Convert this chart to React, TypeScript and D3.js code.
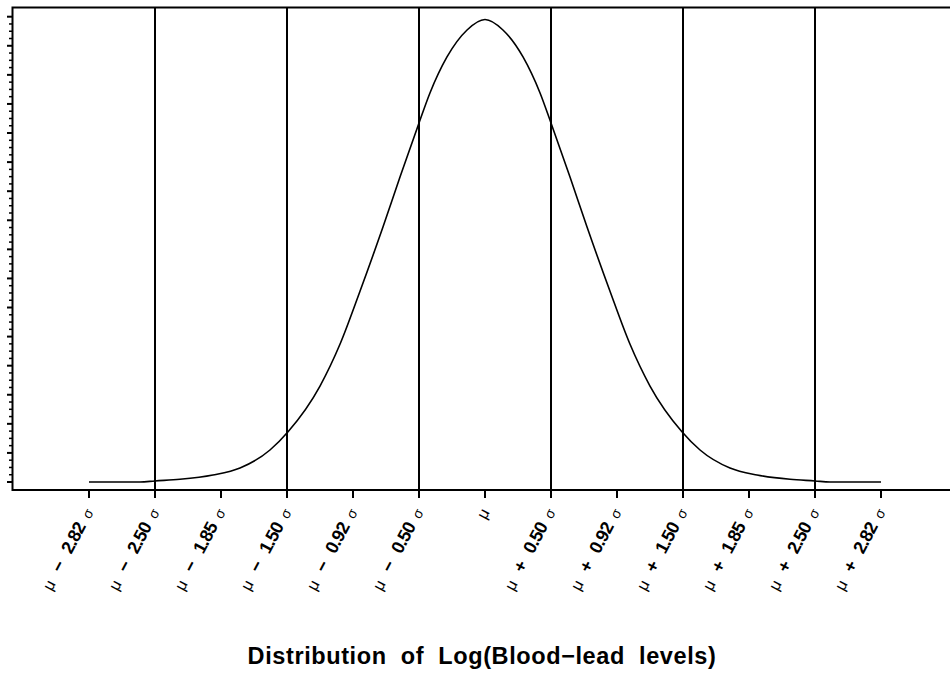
import * as d3 from "d3";

// x positions are in tick units (one tick = 0.5), y is density
const tickPos = [-3, -2.5, -2, -1.5, -1, -0.5, 0, 0.5, 1, 1.5, 2, 2.5, 3];
const tickSign = ["−", "−", "−", "−", "−", "−", "", "+", "+", "+", "+", "+", "+"];
const tickMult = ["2.82", "2.50", "1.85", "1.50", "0.92", "0.50", "", "0.50", "0.92", "1.50", "1.85", "2.50", "2.82"];
const refLines = [-2.5, -1.5, -0.5, 0.5, 1.5, 2.5];

const curveX = [
  -3.0, -2.614, -2.5, -2.311, -2.061, -1.856, -1.629, -1.492, -1.25, -1.098, -0.947, -0.773, -0.644, -0.5, -0.417,
  -0.288, -0.136, 0, 0.136, 0.288, 0.417, 0.5, 0.644, 0.773, 0.947, 1.098, 1.25, 1.492, 1.629, 1.856, 2.061, 2.311,
  2.5, 2.614, 3.0,
];
const curveY = [
  0.0, 0.0, 0.0009, 0.0023, 0.006, 0.012, 0.0275, 0.0432, 0.0825, 0.1186, 0.164, 0.2192, 0.2622, 0.3086, 0.3344,
  0.3654, 0.3886, 0.3976, 0.3886, 0.3654, 0.3344, 0.3086, 0.2622, 0.2192, 0.164, 0.1186, 0.0825, 0.0432, 0.0275,
  0.012, 0.006, 0.0023, 0.0009, 0.0, 0.0,
];

const title = "Distribution of Log(Blood−lead levels)";

const W = 950;
const H = 675;
const frame = { left: 12.5, top: 7.5, right: 953, bottom: 490 };

export default function App() {
  const x = d3.scaleLinear().domain([-3, 3]).range([89, 881]);
  const y = d3.scaleLinear().domain([0, 0.4]).range([482, 16.7]);

  const majors = d3.range(0, 0.4001, 0.025);
  const minors = d3.range(0, 0.4001, 0.00625).filter((v) => Math.abs(v / 0.025 - Math.round(v / 0.025)) > 1e-6);

  const line = d3
    .line<number>()
    .x((_, i) => x(curveX[i]))
    .y((d) => y(d))
    .curve(d3.curveMonotoneX);

  return (
    <div style={{ position: "fixed", left: 0, top: 0 }}>
      <svg width={W} height={H} style={{ display: "block", background: "#fff" }}>
        {/* frame */}
        <rect
          x={frame.left}
          y={frame.top}
          width={frame.right - frame.left}
          height={frame.bottom - frame.top}
          fill="none"
          stroke="#000"
          strokeWidth={2}
        />

        {/* y ticks, no labels */}
        {majors.map((v, i) => (
          <line key={"M" + i} x1={7} x2={frame.left} y1={y(v)} y2={y(v)} stroke="#000" strokeWidth={2} />
        ))}
        {minors.map((v, i) => (
          <line key={"m" + i} x1={9} x2={frame.left} y1={y(v)} y2={y(v)} stroke="#000" strokeWidth={1.5} />
        ))}

        {/* reference lines */}
        {refLines.map((v) => (
          <line key={v} x1={x(v)} x2={x(v)} y1={frame.top} y2={frame.bottom} stroke="#000" strokeWidth={2} />
        ))}

        {/* density curve */}
        <path d={line(curveY) || ""} fill="none" stroke="#000" strokeWidth={1.6} />

        {/* x ticks */}
        {tickPos.map((v, i) => (
          <g key={i}>
            <line x1={x(v)} x2={x(v)} y1={frame.bottom} y2={frame.bottom + 8} stroke="#000" strokeWidth={2} />
            <text
              transform={`translate(${x(v) + 5},${frame.bottom + 22}) rotate(-62)`}
              textAnchor="end"
              fontFamily="Liberation Sans, Arial, sans-serif"
              fontSize={18}
            >
              <tspan fontWeight="normal" fontSize={16}>μ</tspan>
              {tickSign[i] && (
                <>
                  <tspan dx={11} fontWeight="bold">{tickSign[i]}</tspan>
                  <tspan dx={11} fontWeight="bold" letterSpacing={-0.8}>{tickMult[i]}</tspan>
                  <tspan dx={8} fontSize={14}>σ</tspan>
                </>
              )}
            </text>
          </g>
        ))}

        {/* title */}
        <text
          x={482}
          y={664}
          textAnchor="middle"
          fontFamily="Liberation Sans, Arial, sans-serif"
          fontWeight="bold"
          fontSize={23.5}
          letterSpacing={0.6}
          wordSpacing={7}
        >
          {title}
        </text>
      </svg>
    </div>
  );
}
